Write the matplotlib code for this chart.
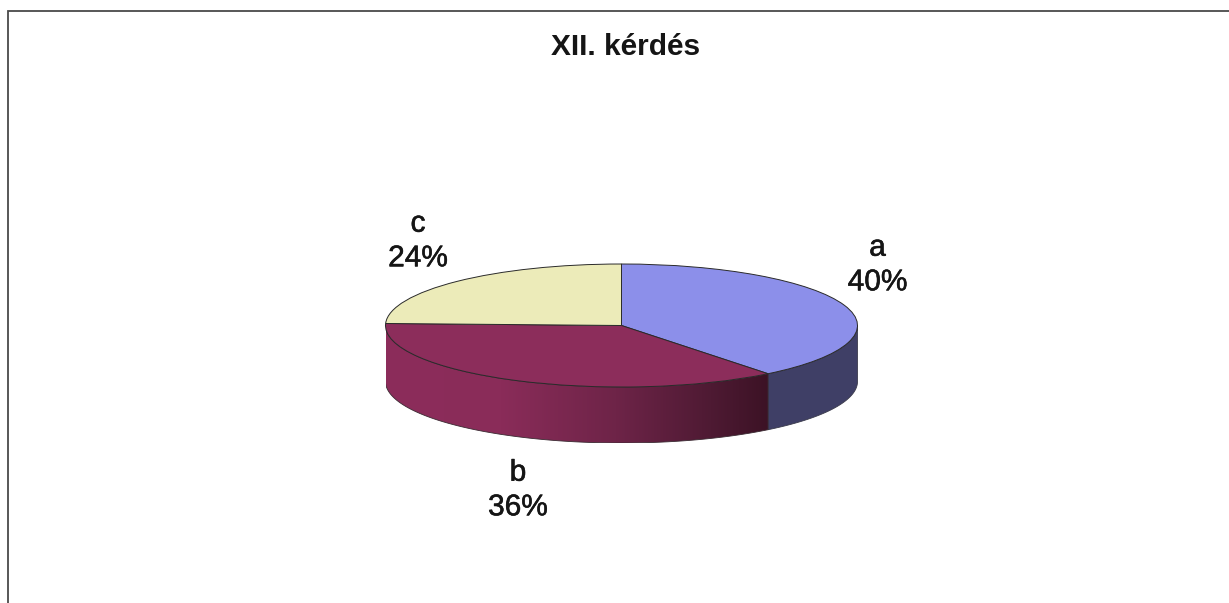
import numpy as np
import matplotlib
matplotlib.use("Agg")
import matplotlib.pyplot as plt
import matplotlib.patheffects as pe
from matplotlib.colors import LinearSegmentedColormap
from matplotlib.patches import Polygon

plt.rcParams['font.family'] = ['Liberation Sans', 'DejaVu Sans']

# Answer shares
categories = ['a', 'b', 'c']
values = [40, 36, 24]
top_colors = ['#8C8FEA', '#8C2D5B', '#ECEBB9']
title = 'XII. kérdés'

W, H = 1229, 603
fig = plt.figure(figsize=(W / 100, H / 100), dpi=100, facecolor='white')

# Page frame, only left and top edges show
bg = fig.add_axes([0, 0, 1, 1])
bg.set_xlim(0, W)
bg.set_ylim(H, 0)
bg.axis('off')
bg.plot([8, 8, W], [H, 10.5, 10.5], color='#4a4a4a', lw=1.3, solid_joinstyle='miter')

# Pie ellipse size in pixels
cx, cy = 621.5, 325.5
rx, ry = 236, 61.5
depth = 56 / ry  # wall height in units of the vertical radius


def view_angle(a):
    # perspective pulls the slice borders a little; a is degrees clockwise from the top
    return a - 2.5 * np.sin(np.radians(a) / 2)


ax = fig.add_axes([(cx - rx) / W, 1 - (cy + ry + 56) / H, 2 * rx / W, (2 * ry + 56) / H])
ax.axis('off')
wedges, _ = ax.pie(values, colors=top_colors, startangle=90, counterclock=False, radius=1,
                   wedgeprops=dict(edgecolor='#2a2a2a', linewidth=0.7, zorder=5))
ax.set_aspect('auto')

edges = view_angle(np.cumsum([0] + values) / sum(values) * 360)
for i, w in enumerate(wedges):
    w.set_theta1(90 - edges[i + 1])
    w.set_theta2(90 - edges[i])


def wall_polygon(start, end):
    # angles are degrees clockwise from the top; keep the front half only
    start, end = max(start, 90), min(end, 270)
    t = np.radians(np.linspace(start, end, 120))
    x, y = np.sin(t), np.cos(t)
    return np.r_[np.c_[x, y], np.c_[x, y - depth][::-1]]


# Right wall (a), flat colour
ax.add_patch(Polygon(wall_polygon(edges[0], edges[1]), closed=True, facecolor='#3F3F66',
                     edgecolor='#3a3a4a', linewidth=0.6, zorder=2))

# Front wall (b), shading to dark towards the right
b_cmap = LinearSegmentedColormap.from_list(
    'wall_b', [(0, '#8C2D5B'), (0.3, '#8A2C59'), (0.6, '#6E2448'), (0.85, '#4E1A33'), (1, '#3C1225')])
b_poly = wall_polygon(edges[1], edges[2])
shade = np.linspace(0, 1, 256).reshape(1, -1)
x0, x1 = b_poly[:, 0].min(), b_poly[:, 0].max()
im = ax.imshow(shade, cmap=b_cmap, extent=[x0, x1, -1 - depth, 1], aspect='auto', zorder=2)
clip = Polygon(b_poly, closed=True, transform=ax.transData)
im.set_clip_path(clip)
ax.add_patch(Polygon(b_poly, closed=True, facecolor='none', edgecolor='#3a2a32', linewidth=0.6, zorder=3))
ax.set_xlim(-1, 1)
ax.set_ylim(-1 - depth, 1)

# Title and data labels
bg.text(625.5, 47, title, ha='center', va='center', fontsize=21.5, color='#151515', fontweight='bold')
label_pos = [(877.5, 265), (518, 490), (418, 241)]
for name, v, (lx, ly) in zip(categories, values, label_pos):
    t = bg.text(lx, ly, f'{name}\n{v}%', ha='center', va='center', fontsize=21.5, color='#151515',
                linespacing=1.3)
    t.set_path_effects([pe.withStroke(linewidth=0.4, foreground='#151515')])

fig.savefig('out.png', dpi=100)
